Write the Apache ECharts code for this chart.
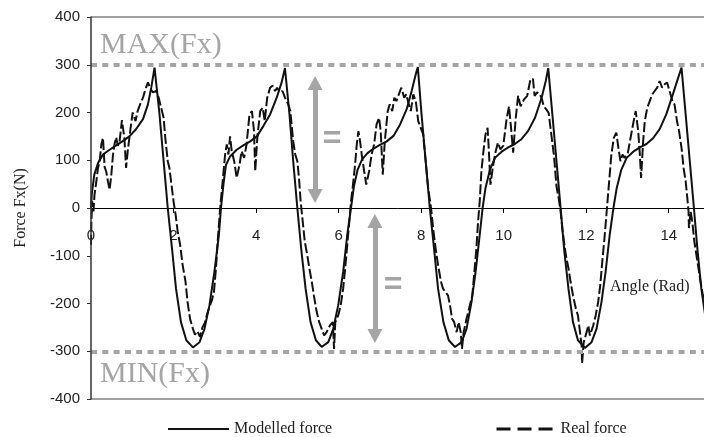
<!DOCTYPE html>
<html>
<head>
<meta charset="utf-8">
<script src="https://cdn.jsdelivr.net/npm/echarts@6.0.0/dist/echarts.min.js"></script>
<style>
  html, body { margin: 0; padding: 0; background: #fff; }
  #chart { width: 704px; height: 437px; }
</style>
</head>
<body>
<div id="chart"></div>
<script>
// Angle (rad) and force Fx (N) of the modelled curve
const modelX = [0, 0.02, 0.08, 0.17, 0.29, 0.45, 0.61, 0.77, 0.93, 1.09, 1.26, 1.38, 1.46, 1.54,
  1.66, 1.76, 1.86, 1.97, 2.06, 2.18, 2.31, 2.47, 2.63, 2.75, 2.87, 2.99, 3.10, 3.15,
  3.21, 3.27, 3.37, 3.53, 3.69, 3.85, 4.02, 4.18, 4.34, 4.50, 4.62, 4.70,
  4.81, 4.90, 5.00, 5.10, 5.20, 5.32, 5.45, 5.59, 5.75, 5.87, 5.99, 6.11, 6.21, 6.30,
  6.37, 6.46, 6.57, 6.70, 6.84, 7.00, 7.16, 7.33, 7.49, 7.65, 7.77, 7.87, 7.92,
  8.01, 8.11, 8.21, 8.32, 8.41, 8.54, 8.67, 8.82, 8.98, 9.10, 9.22, 9.32, 9.42, 9.49,
  9.56, 9.67, 9.79, 9.95, 10.11, 10.27, 10.43, 10.59, 10.76, 10.92, 11.02, 11.08,
  11.18, 11.28, 11.38, 11.47, 11.57, 11.68, 11.80, 11.97, 12.13, 12.25, 12.37, 12.47, 12.57, 12.66,
  12.74, 12.85, 12.98, 13.14, 13.30, 13.46, 13.62, 13.78, 13.94, 14.10, 14.23, 14.31,
  14.41, 14.51, 14.61, 14.70, 14.79, 14.90, 15.00];
const modelY = [0, 30, 70, 94, 112, 122, 131, 140, 150, 165, 186, 217, 252, 294,
  196, 98, 0, -91, -169, -239, -277, -292, -281, -253, -204, -134, -56, 0,
  50, 90, 108, 122, 131, 139, 150, 172, 196, 231, 263, 293,
  196, 98, 0, -91, -169, -239, -277, -291, -281, -253, -204, -134, -56, 0,
  45, 80, 102, 115, 124, 132, 139, 151, 175, 207, 245, 280, 295,
  196, 98, 0, -91, -169, -239, -277, -291, -281, -253, -197, -134, -56, 0,
  42, 81, 105, 118, 127, 134, 144, 161, 189, 231, 266, 293,
  196, 98, 0, -91, -169, -239, -277, -293, -281, -253, -197, -134, -56, 0,
  42, 80, 105, 118, 127, 134, 146, 165, 196, 238, 273, 294,
  196, 98, 0, -91, -169, -235, -270];

// Angle (rad) and measured force Fx (N)
const realX = [0, 0.01, 0.03, 0.06, 0.085, 0.13, 0.17, 0.21, 0.25, 0.29, 0.33, 0.37, 0.41, 0.45, 0.49,
  0.53, 0.57, 0.61, 0.65, 0.69, 0.75, 0.81, 0.85, 0.89, 0.95, 1.01, 1.08, 1.13, 1.19, 1.26, 1.32,
  1.38, 1.43, 1.50, 1.58, 1.64, 1.70, 1.76, 1.80, 1.86, 1.90, 1.94, 2.00, 2.05, 2.10, 2.16, 2.22,
  2.29, 2.34, 2.40, 2.47, 2.52, 2.58, 2.64, 2.70, 2.76, 2.82, 2.88, 2.93, 2.98, 3.03, 3.07, 3.10, 3.13,
  3.19, 3.25, 3.29, 3.33, 3.37, 3.41, 3.47, 3.53, 3.60, 3.65, 3.71, 3.77, 3.84, 3.90, 3.95, 3.98,
  4.03, 4.10, 4.16, 4.21, 4.27, 4.34, 4.40, 4.46, 4.51, 4.58, 4.64, 4.70, 4.78, 4.83, 4.90, 4.95,
  5.00, 5.04, 5.08, 5.13, 5.18, 5.24, 5.29, 5.35, 5.40, 5.47, 5.53, 5.59, 5.65, 5.71, 5.79, 5.86,
  5.89, 5.92, 5.99, 6.05, 6.11, 6.16, 6.21, 6.26, 6.30, 6.34, 6.40, 6.44, 6.48,
  6.52, 6.57, 6.62, 6.67, 6.74, 6.80, 6.86, 6.92, 6.98, 7.02, 7.07, 7.12, 7.19, 7.24, 7.30, 7.35,
  7.40, 7.46, 7.52, 7.59, 7.64, 7.70, 7.75, 7.81, 7.87, 7.93, 7.99, 8.05, 8.11, 8.17, 8.24, 8.29,
  8.35, 8.41, 8.48, 8.53, 8.59, 8.65, 8.70, 8.75, 8.80, 8.86, 8.91, 8.96, 8.99, 9.03, 9.10, 9.18,
  9.24, 9.29, 9.34, 9.38, 9.42, 9.46, 9.51, 9.56, 9.61,
  9.64, 9.68, 9.74, 9.80, 9.86, 9.92, 9.99, 10.07, 10.13, 10.19, 10.23, 10.29, 10.35, 10.41, 10.49,
  10.57, 10.65, 10.71, 10.75, 10.81, 10.88, 10.93, 10.97, 11.04, 11.09, 11.13, 11.17, 11.22, 11.28,
  11.34, 11.38, 11.42, 11.47, 11.52, 11.57, 11.62, 11.68, 11.75, 11.80, 11.85, 11.89, 11.90, 11.94,
  12.01, 12.05, 12.09, 12.17, 12.23, 12.29, 12.34, 12.39, 12.45, 12.49, 12.53, 12.57, 12.61, 12.67,
  12.73, 12.78, 12.83, 12.88, 12.93, 13.01,
  13.09, 13.15, 13.20, 13.26, 13.30, 13.33, 13.38, 13.42, 13.48, 13.54, 13.60, 13.66, 13.72, 13.78,
  13.84, 13.90, 13.96, 14.02, 14.09, 14.14, 14.20, 14.25, 14.31, 14.36, 14.41, 14.45, 14.48, 14.49,
  14.53, 14.57, 14.62, 14.67, 14.72, 14.77, 14.82, 14.86];
const realY = [-77, -28, 14, -7, 28, 56, 84, 98, 133, 147, 86, 76, 56, 38, 67,
  109, 134, 148, 130, 138, 184, 145, 84, 119, 161, 200, 182, 203, 217, 231, 249,
  263, 252, 242, 245, 231, 210, 189, 147, 98, 84, 56, 14, -14, -49, -77, -119,
  -154, -197, -232, -253, -265, -258, -270, -250, -240, -220, -205, -193, -175, -125, -70, -35, 0,
  56, 112, 133, 112, 150, 119, 98, 63, 91, 119, 105, 133, 196, 203, 161, 77,
  147, 203, 210, 182, 231, 252, 256, 245, 252, 242, 245, 231, 217, 203, 140, 112,
  98, 63, 14, -28, -70, -98, -126, -154, -183, -218, -239, -253, -267, -260, -246, -239,
  -295, -239, -225, -204, -169, -126, -77, -28, 14, 42, 91, 133, 161,
  140, 105, 77, 49, 77, 112, 133, 175, 189, 161, 70, 140, 203, 217, 203, 231,
  224, 238, 252, 231, 238, 217, 203, 238, 224, 182, 168, 154, 98, 42, 0, -42,
  -84, -119, -154, -169, -176, -183, -204, -232, -239, -260, -239, -260, -295, -260, -232, -204,
  -183, -134, -84, -28, 14, 77, 119, 154, 168,
  122, 49, 87, 116, 137, 123, 130, 186, 213, 157, 116, 186, 235, 213, 227,
  235, 270, 270, 235, 242, 238, 227, 213, 206, 199, 171, 143, 109, 45,
  17, -7, -42, -77, -105, -126, -154, -183, -211, -225, -260, -289, -325, -281,
  -260, -246, -267, -246, -225, -197, -162, -112, -56, -14, 28, 70, 112, 147,
  158, 126, 98, 112, 105, 116,
  154, 182, 203, 161, 112, 63, 140, 182, 210, 224, 238, 245, 252, 266,
  252, 259, 263, 245, 224, 217, 182, 161, 126, 84, 56, 21, -7, -42,
  -7, -28, -70, -98, -126, -154, -179, -195];

// Axis ticks and reference levels
const xTicks = { min: 0, max: 15, step: 2 };
const yTicks = { min: -400, max: 400, step: 100 };
const extremeLevels = [300, -300];
// Double arrows showing equal distances to the extremes: [angle, from, to]
const arrowUp = [5.43, 262, 25];
const arrowDown = [6.88, -27, -268];

const zip = (xs, ys) => xs.map((x, i) => [x, ys[i]]);
const hLine = v => [{ coord: [xTicks.min, v] }, { coord: [xTicks.max, v] }];

const SERIF = '"Liberation Serif", "Times New Roman", serif';
const SANS = '"Liberation Sans", Arial, sans-serif';
const GUIDE = '#a5a5a5';
const FRAME = '#a0a0a0';

// Plot box in pixels
const W = 704, H = 437;
const GRID = { left: 91, right: -6, top: 17, bottom: 38 };
const plotHeight = H - GRID.top - GRID.bottom;
// Lift the angle axis from the bottom edge up to the zero force line
const zeroLineOffset = -plotHeight * (0 - yTicks.min) / (yTicks.max - yTicks.min);

// Top or bottom edge of the plot box, drawn as a flat stroke across the full angle range
const frameEdge = (name, level) => ({
  name: name,
  type: 'line',
  data: [[xTicks.min, level], [xTicks.max, level]],
  symbol: 'none',
  silent: true,
  clip: false,
  lineStyle: { color: FRAME, width: 2 },
  itemStyle: { color: FRAME },
  z: 1
});

// Legend key: a plain stroke with the marker hidden
const hiddenMarker = { color: 'rgba(0,0,0,0)', borderColor: 'rgba(0,0,0,0)', borderWidth: 0, opacity: 0 };
const legendText = { fontFamily: SERIF, fontSize: 16, color: '#222' };

const chart = echarts.init(document.getElementById('chart'), null, { renderer: 'canvas' });

chart.setOption({
  animation: false,
  backgroundColor: '#ffffff',
  grid: Object.assign({ containLabel: false, outerBoundsMode: 'none', show: false }, GRID),
  xAxis: {
    type: 'value',
    min: xTicks.min, max: xTicks.max, interval: xTicks.step,
    position: 'bottom',
    offset: zeroLineOffset,
    axisLine: { onZero: false, lineStyle: { color: '#000', width: 1 } },
    axisTick: { show: true, length: 5, lineStyle: { color: '#000' } },
    axisLabel: { margin: 20, fontFamily: SANS, fontSize: 15, color: '#222', showMaxLabel: false },
    splitLine: { show: false },
    z: 2
  },
  yAxis: {
    type: 'value',
    min: yTicks.min, max: yTicks.max, interval: yTicks.step,
    name: 'Force Fx(N)',
    nameLocation: 'middle',
    nameRotate: 90,
    nameGap: 62,
    nameTextStyle: { fontFamily: SERIF, fontSize: 16, color: '#222' },
    axisLine: { show: true, onZero: false, lineStyle: { color: '#333', width: 1.5 } },
    axisTick: { show: true, length: 4, lineStyle: { color: '#333' } },
    axisLabel: { margin: 11, fontFamily: SANS, fontSize: 15, color: '#222' },
    splitLine: { show: false },
    z: 5
  },
  legend: [
    {
      data: [{ name: 'Modelled force', itemStyle: hiddenMarker, lineStyle: { width: 2 } }],
      left: 162, top: 416,
      itemWidth: 61, itemHeight: 14,
      textStyle: legendText,
      selectedMode: false
    },
    {
      data: [{ name: 'Real force', itemStyle: hiddenMarker, lineStyle: { width: 3, type: [14, 7] } }],
      left: 490, top: 416,
      itemWidth: 56, itemHeight: 14,
      textStyle: Object.assign({ padding: [0, 0, 0, 3] }, legendText),
      selectedMode: false
    }
  ],
  series: [
    frameEdge('frame top', yTicks.max),
    frameEdge('frame bottom', yTicks.min),
    {
      name: 'Real force',
      type: 'line',
      data: zip(realX, realY),
      symbol: 'none',
      lineStyle: { color: '#111', width: 2, type: [10, 3] },
      itemStyle: { color: '#111' },
      z: 3
    },
    {
      name: 'Modelled force',
      type: 'line',
      data: zip(modelX, modelY),
      symbol: 'none',
      lineStyle: { color: '#111', width: 2 },
      itemStyle: { color: '#111' },
      z: 4
    },
    {
      name: 'guides',
      type: 'line',
      data: [],
      markLine: {
        silent: true,
        symbol: ['none', 'none'],
        label: { show: false },
        lineStyle: { color: GUIDE, width: 4, type: [6, 5.3] },
        data: extremeLevels.map(hLine)
      },
      z: 2
    },
    {
      name: 'arrows',
      type: 'line',
      data: [],
      markLine: {
        silent: true,
        symbol: ['triangle', 'triangle'],
        symbolSize: [15, 14],
        label: { show: false },
        lineStyle: { color: GUIDE, width: 5, type: 'solid' },
        itemStyle: { color: GUIDE },
        data: [arrowUp, arrowDown].map(a => [
          { coord: [a[0], a[1]] },
          { coord: [a[0], a[2]] }
        ])
      },
      z: 2
    }
  ],
  graphic: [
    { type: 'text', x: 100, y: 45, style: { text: 'MAX(Fx)', font: '30px ' + SERIF, fill: GUIDE, verticalAlign: 'middle' } },
    { type: 'text', x: 100, y: 374, style: { text: 'MIN(Fx)', font: '30px ' + SERIF, fill: GUIDE, verticalAlign: 'middle' } },
    { type: 'text', x: 332, y: 139, style: { text: '=', font: 'bold 32px ' + SANS, fill: GUIDE, align: 'center', verticalAlign: 'middle' } },
    { type: 'text', x: 393, y: 285, style: { text: '=', font: 'bold 32px ' + SANS, fill: GUIDE, align: 'center', verticalAlign: 'middle' } },
    { type: 'text', x: 610, y: 287, style: { text: 'Angle (Rad)', font: '16px ' + SERIF, fill: '#222', verticalAlign: 'middle' } }
  ]
});
</script>
</body>
</html>
